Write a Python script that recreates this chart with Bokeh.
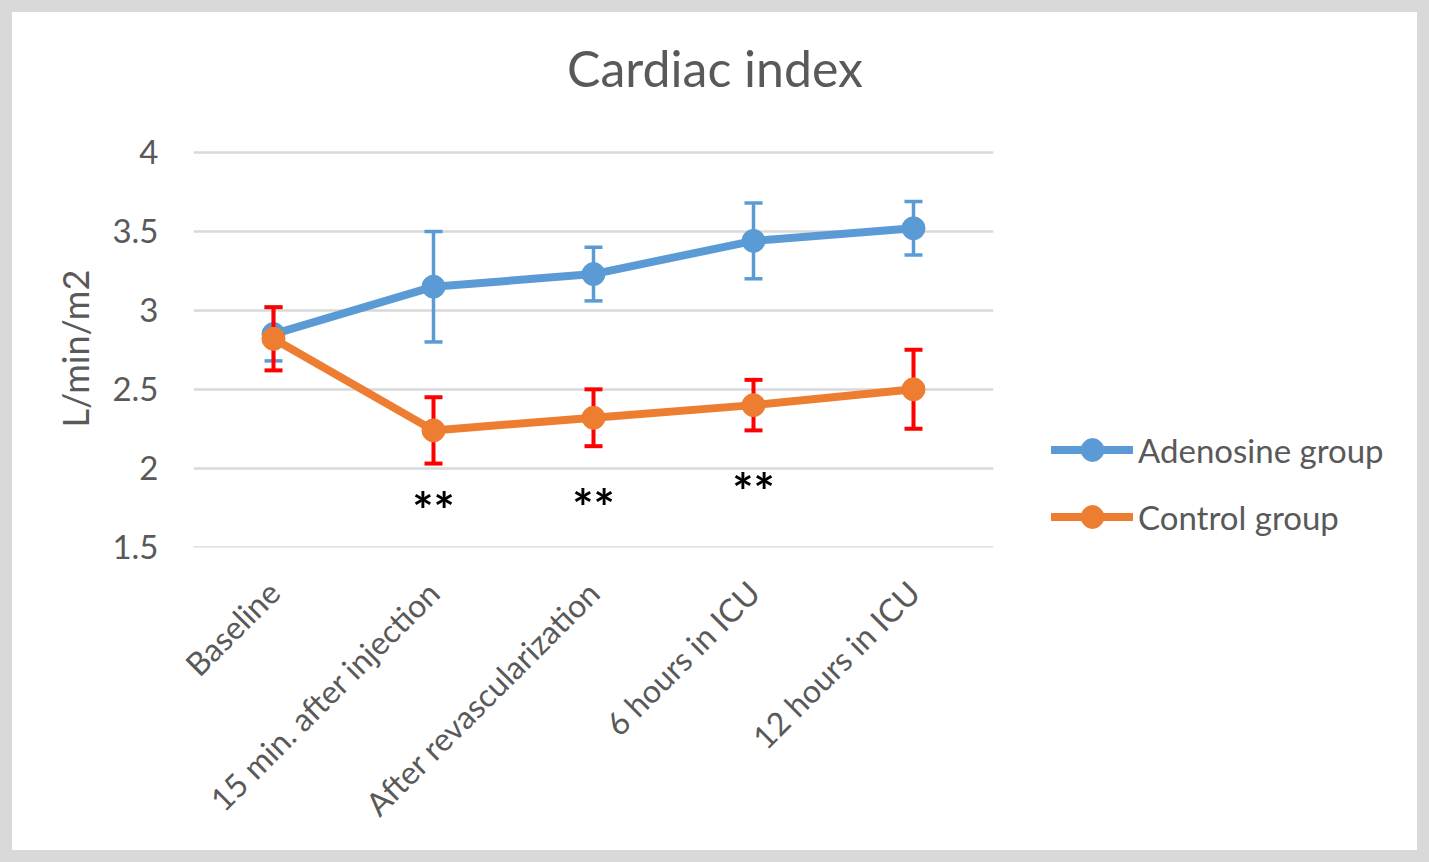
import math
from bokeh.plotting import figure
from bokeh.layouts import row
from bokeh.models import (ColumnDataSource, FactorRange, Range1d, FixedTicker,
                          Legend, LegendItem, Label, Title)
from bokeh.core.properties import value
from bokeh.embed import file_html
from bokeh.resources import INLINE

# ---------------- data ----------------
categories = ["Baseline", "15 min. after injection", "After revascularization",
              "6 hours in ICU", "12 hours in ICU"]
adenosine_mean = [2.85, 3.15, 3.23, 3.44, 3.52]
adenosine_err = [0.17, 0.35, 0.17, 0.24, 0.17]
control_mean = [2.82, 2.24, 2.32, 2.40, 2.50]
control_err = [0.20, 0.21, 0.18, 0.16, 0.25]
sig_categories = ["15 min. after injection", "After revascularization", "6 hours in ICU"]
sig_y = [1.80, 1.82, 1.92]
sig_labels = ["**", "**", "**"]
y_ticks = [1.5, 2, 2.5, 3, 3.5, 4]
series_names = ["Adenosine group", "Control group"]
chart_title = "Cardiac index"
y_title = "L/min/m2"

FONT = "Lato"
GREY = "#595959"
BLUE = "#5B9BD5"
ORANGE = "#ED7D31"
RED = "#FF0000"
FRAME = "12px solid #d9d9d9"

src_a = ColumnDataSource(dict(
    x=categories, y=adenosine_mean,
    upper=[m + e for m, e in zip(adenosine_mean, adenosine_err)],
    lower=[m - e for m, e in zip(adenosine_mean, adenosine_err)]))
src_c = ColumnDataSource(dict(
    x=categories, y=control_mean,
    upper=[m + e for m, e in zip(control_mean, control_err)],
    lower=[m - e for m, e in zip(control_mean, control_err)]))
src_sig = ColumnDataSource(dict(x=sig_categories, y=sig_y, t=sig_labels))

# layout geometry (canvas starts 12px inside the grey frame)
W1, H = 1030, 862
FR_LEFT, FR_RIGHT, FR_BOTTOM = 181, 981, 535      # canvas px
PX_PER_UNIT = 158.0                                  # 0.5 units = 79 px
y_top = 4 + 140 / PX_PER_UNIT                        # frame top = canvas 0

p = figure(width=W1, height=H, output_backend="svg", toolbar_location=None,
           x_range=FactorRange(*categories), y_range=Range1d(1.4985, y_top),
           min_border_left=FR_LEFT, min_border_right=W1 - FR_RIGHT,
           min_border_top=0, min_border_bottom=H - FR_BOTTOM)
p.title = None
p.outline_line_color = None
p.background_fill_color = "white"
p.border_fill_color = "white"
p.styles = {"border-left": FRAME, "border-top": FRAME, "border-bottom": FRAME}

p.add_layout(Label(text=chart_title, x=521.5, y=480, x_units="screen",
                   y_units="screen", text_align="center",
                   text_baseline="alphabetic", text_font=FONT,
                   text_font_size="50px", text_color=GREY))

# y-axis title, centred on the 1.5 - 4 span (not on the whole frame)
p.add_layout(Title(text=y_title, align="left", offset=120, standoff=26,
                   text_font=FONT, text_font_size="36px",
                   text_font_style="normal", text_color=GREY), "left")

# axes
p.yaxis.ticker = FixedTicker(ticks=y_ticks)
for ax in (p.xaxis[0], p.yaxis[0]):
    ax.axis_line_color = None
    ax.major_tick_line_color = None
    ax.minor_tick_line_color = None
    ax.major_tick_out = 0
    ax.major_tick_in = 0
    ax.minor_tick_out = 0
    ax.major_label_text_font = FONT
    ax.major_label_text_color = GREY
p.yaxis.major_label_text_font_size = "33px"
p.xaxis.major_label_text_font_size = "32px"
p.yaxis.major_label_standoff = 35
p.xaxis.major_label_orientation = math.pi / 4
p.xaxis.major_label_standoff = 39

p.xgrid.grid_line_color = None
p.ygrid.grid_line_color = "#d9d9d9"
p.ygrid.grid_line_width = 2.5

# Adenosine: error bars then line
p.segment(x0="x", y0="lower", x1="x", y1="upper", source=src_a,
          line_color=BLUE, line_width=3.5)
p.scatter(x="x", y="upper", source=src_a, marker="dash", size=18,
          line_color=BLUE, line_width=3.5)
p.scatter(x="x", y="lower", source=src_a, marker="dash", size=18,
          line_color=BLUE, line_width=3.5)
p.line(x="x", y="y", source=src_a, line_color=BLUE, line_width=8,
       line_cap="round", line_join="round")
p.scatter(x="x", y="y", source=src_a, size=23, fill_color=BLUE, line_color=BLUE)

# Control: error bars then line
p.segment(x0="x", y0="lower", x1="x", y1="upper", source=src_c,
          line_color=RED, line_width=4)
p.scatter(x="x", y="upper", source=src_c, marker="dash", size=18,
          line_color=RED, line_width=4)
p.scatter(x="x", y="lower", source=src_c, marker="dash", size=18,
          line_color=RED, line_width=4)
p.line(x="x", y="y", source=src_c, line_color=ORANGE, line_width=8,
       line_cap="round", line_join="round")
p.scatter(x="x", y="y", source=src_c, size=23, fill_color=ORANGE,
          line_color=ORANGE)

# significance markers
p.text(x="x", y="y", text="t", source=src_sig, text_align="center",
       text_baseline="middle", text_font=value(FONT), text_font_size="50px",
       text_font_style="bold", text_color="black", y_offset=10)

# ---------------- legend panel ----------------
W2 = 1429 - W1
q = figure(width=W2, height=H, output_backend="svg", toolbar_location=None,
           x_range=FactorRange("legend"), y_range=Range1d(0, 1),
           x_axis_type=None, y_axis_type=None,
           min_border_left=0, min_border_right=0,
           min_border_top=0, min_border_bottom=0)
q.title = None
q.outline_line_color = None
q.xgrid.grid_line_color = None
q.ygrid.grid_line_color = None
q.background_fill_color = "white"
q.border_fill_color = "white"
q.styles = {"border-right": FRAME, "border-top": FRAME, "border-bottom": FRAME}

# same series (their categories are not on this panel's range, so only the
# legend swatches are visible here)
la = q.line(x="x", y="y", source=src_a, line_color=BLUE, line_width=8,
            line_cap="round")
sa = q.scatter(x="x", y="y", source=src_a, size=23, fill_color=BLUE,
               line_color=BLUE)
lc = q.line(x="x", y="y", source=src_c, line_color=ORANGE, line_width=8,
            line_cap="round")
sc = q.scatter(x="x", y="y", source=src_c, size=23, fill_color=ORANGE,
               line_color=ORANGE)

legend = Legend(items=[LegendItem(label=series_names[0], renderers=[la, sa]),
                       LegendItem(label=series_names[1], renderers=[lc, sc])],
                location=(1051 - W1, 2), glyph_width=82, glyph_height=57,
                spacing=10, padding=0, margin=0, label_standoff=5,
                label_text_font=FONT, label_text_font_size="33px",
                label_text_color=GREY, border_line_color=None,
                background_fill_alpha=0)
q.add_layout(legend)

layout = row(p, q, spacing=0)
open("out.html", "w").write(file_html(layout, INLINE))
